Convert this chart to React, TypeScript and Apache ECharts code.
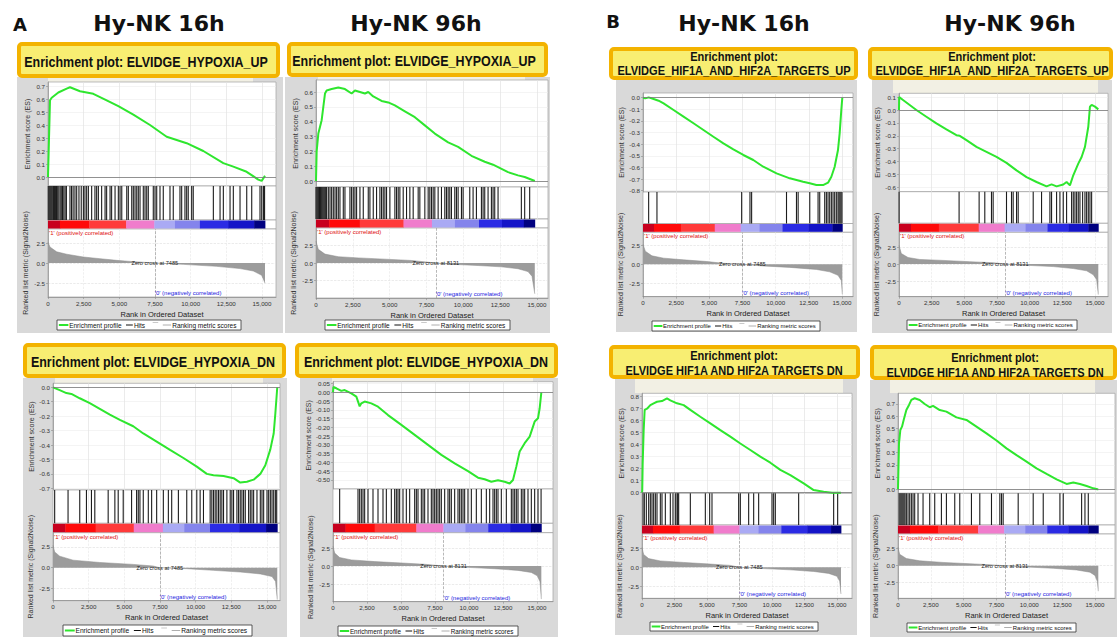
import React, { useEffect, useRef } from "react";
import * as echarts from "echarts";

// ---------------- shared data ----------------
const HEADERS = ["Hy-NK 16h", "Hy-NK 96h", "Hy-NK 16h", "Hy-NK 96h"];
const PANEL_LETTERS = ["A", "B"];
const X_TICKS = [0, 2500, 5000, 7500, 10000, 12500, 15000];
const RANK_TICKS = [-2.5, 0, 2.5];
const ZERO_CROSS_16H = 7485;
const ZERO_CROSS_96H = 8131;
const COLORBAR_COLORS = ["#c8001e", "#ff0a0a", "#ff3a3a", "#f07ccc", "#aaaaf4", "#8484ec", "#2b2be4", "#1414c8", "#000080"];
const COLORBAR_BREAKS_16H = [0, 0.055, 0.19, 0.36, 0.49, 0.585, 0.7, 0.83, 0.95, 1];
const COLORBAR_BREAKS_96H = [0, 0.06, 0.2, 0.4, 0.53, 0.635, 0.745, 0.85, 0.95, 1];

// ---------------- A1: 16h HYPOXIA_UP ----------------
const A1_TITLE = ["Enrichment plot: ELVIDGE_HYPOXIA_UP"];
const A1_N = 15210;
const A1_ES_TICKS = [0, 0.1, 0.2, 0.3, 0.4, 0.5, 0.6, 0.7];
const A1_ES = [[0, 0], [140, 0.59], [259, 0.61], [724, 0.65], [1308, 0.68], [1542, 0.69], [2243, 0.66], [3177, 0.64], [4112, 0.59], [4930, 0.545], [5981, 0.48], [7149, 0.4], [8318, 0.31], [9720, 0.26], [10886, 0.2], [12288, 0.107], [12990, 0.08], [13924, 0.04], [14742, -0.02], [14976, -0.03], [15210, 0.01]];
const A1_HITS = [20, 90, 160, 230, 300, 380, 450, 520, 600, 680, 760, 850, 930, 1020, 1110, 1200, 1290, 1540, 1650, 1760, 1890, 2010, 2170, 2330, 2480, 2590, 2710, 2830, 3060, 3290, 3410, 3530, 3760, 4000, 4110, 4350, 4460, 4700, 4930, 5050, 5170, 5520, 5630, 5870, 5980, 6100, 6220, 6330, 6450, 6680, 6800, 6920, 7030, 7380, 7500, 7620, 7850, 8080, 8550, 8780, 9250, 9370, 9600, 9720, 9830, 10070, 10180, 11590, 12060, 12290, 12760, 12990, 13460, 13930, 14280, 14860, 14980, 15100, 15180];
const A1_RANKED = [[0, 2.6], [140, 2.0], [607, 1.4], [1308, 1.1], [2477, 0.75], [3645, 0.54], [4813, 0.33], [5981, 0.17], [7485, 0], [9486, -0.17], [11822, -0.42], [13457, -0.7], [14392, -1.0], [14976, -1.54], [15210, -2.5]];

// ---------------- A2: 96h HYPOXIA_UP ----------------
const A2_TITLE = ["Enrichment plot: ELVIDGE_HYPOXIA_UP"];
const A2_N = 14850;
const A2_ES_TICKS = [0, 0.1, 0.2, 0.3, 0.4, 0.5, 0.6];
const A2_ES = [[0, 0], [45, 0.2], [158, 0.32], [384, 0.41], [497, 0.5], [610, 0.59], [723, 0.61], [1062, 0.62], [1514, 0.63], [1965, 0.62], [2417, 0.59], [2643, 0.61], [2982, 0.6], [3321, 0.59], [3547, 0.6], [3886, 0.57], [4450, 0.54], [4902, 0.53], [5354, 0.51], [6032, 0.47], [6709, 0.43], [7387, 0.375], [8065, 0.32], [8968, 0.26], [9646, 0.23], [10550, 0.17], [11453, 0.13], [12018, 0.11], [12357, 0.094], [13034, 0.06], [13712, 0.038], [14164, 0.027], [14729, 0.005], [14850, 0]];
const A2_HITS = [0, 60, 120, 180, 240, 300, 360, 420, 480, 540, 600, 660, 720, 836, 950, 1062, 1175, 1290, 1400, 1514, 1626, 1852, 1965, 2304, 2417, 2530, 2643, 2756, 2982, 3208, 3547, 3660, 3886, 4111, 4337, 4450, 4563, 4676, 4789, 5015, 5354, 5467, 5580, 5693, 5919, 6145, 6370, 6596, 6935, 7048, 7387, 7613, 7726, 7839, 7952, 8065, 8290, 8516, 8742, 8855, 8968, 9081, 9194, 9420, 9533, 9646, 9872, 9985, 10437, 10662, 10888, 11227, 11340, 11453, 11679, 11905, 12018, 12131, 12357, 13938, 14164, 14503];
const A2_RANKED = [[0, 3.1], [158, 1.95], [610, 1.27], [1514, 0.9], [2869, 0.73], [4676, 0.55], [6483, 0.36], [8131, 0], [9194, -0.18], [11001, -0.36], [12583, -0.55], [13712, -0.82], [14390, -1.23], [14661, -1.9], [14850, -4.4]];

// ---------------- B1: 16h HIF1A_AND_HIF2A_TARGETS_UP ----------------
const B1_TITLE = ["Enrichment plot:", "ELVIDGE_HIF1A_AND_HIF2A_TARGETS_UP"];
const B1_N = 15024;
const B1_ES_TICKS = [0, -0.1, -0.2, -0.3, -0.4, -0.5, -0.6, -0.7, -0.8];
const B1_ES = [[0, 0], [175, -0.006], [426, 0.003], [801, -0.011], [1177, -0.026], [1552, -0.049], [2304, -0.106], [3055, -0.163], [3806, -0.22], [4557, -0.278], [5308, -0.336], [6060, -0.393], [6811, -0.445], [7562, -0.493], [8313, -0.536], [9065, -0.594], [10066, -0.651], [11068, -0.694], [12069, -0.723], [12570, -0.737], [13071, -0.752], [13572, -0.752], [13948, -0.731], [14198, -0.68], [14448, -0.594], [14698, -0.45], [14823, -0.307], [14948, -0.106], [15024, 0]];
const B1_HITS = [426, 1052, 7437, 8063, 8188, 10817, 11568, 11694, 12570, 13196, 13321, 13697, 13822, 13947, 14072, 14198, 14323, 14448, 14573, 14698, 14773, 14848, 14923, 14998];
const B1_RANKED = [[0, 2.6], [175, 1.7], [676, 1.1], [1552, 0.8], [3055, 0.58], [4808, 0.36], [6060, 0.13], [7485, 0], [9065, -0.22], [11068, -0.4], [13071, -0.67], [14072, -0.98], [14698, -1.43], [14948, -2.1], [15024, -3.9]];

// ---------------- B2: 96h HIF1A_AND_HIF2A_TARGETS_UP ----------------
const B2_TITLE = ["Enrichment plot:", "ELVIDGE_HIF1A_AND_HIF2A_TARGETS_UP"];
const B2_N = 15253;
const B2_ES_TICKS = [0.1, 0, -0.1, -0.2, -0.3, -0.4, -0.5, -0.6];
const B2_ES = [[0, 0], [15, 0.1], [307, 0.078], [818, 0.039], [1329, 0], [2095, -0.052], [2862, -0.104], [3628, -0.15], [4395, -0.195], [4650, -0.2], [5161, -0.234], [5928, -0.286], [6694, -0.325], [7461, -0.364], [8227, -0.41], [8994, -0.468], [9760, -0.52], [10527, -0.558], [11293, -0.592], [11676, -0.577], [12060, -0.592], [12571, -0.577], [12826, -0.558], [13082, -0.584], [13337, -0.506], [13720, -0.416], [13976, -0.364], [14231, -0.286], [14487, -0.13], [14614, 0.026], [14742, 0.039], [14998, 0.026], [15253, 0.005]];
const B2_HITS = [10, 4599, 6132, 6566, 7077, 7205, 8227, 8610, 8738, 8994, 9121, 10271, 10910, 11549, 11676, 12060, 12315, 12571, 12826, 13209, 13337, 13465, 13593, 13720, 13848, 14052, 14231, 14359, 14487, 14614, 14742];
const B2_RANKED = [[0, 2.74], [179, 1.54], [690, 0.96], [1584, 0.67], [3373, 0.53], [5417, 0.34], [7205, 0.19], [8131, 0], [9760, -0.19], [11804, -0.38], [13337, -0.67], [14359, -1.0], [14870, -1.59], [15125, -2.3], [15253, -4.5]];

// ---------------- A3: 16h HYPOXIA_DN ----------------
const A3_TITLE = ["Enrichment plot: ELVIDGE_HYPOXIA_DN"];
const A3_N = 15720;
const A3_ES_TICKS = [0, -0.1, -0.2, -0.3, -0.4, -0.5, -0.6, -0.7];
const A3_ES = [[0, 0], [469, -0.02], [938, -0.04], [1289, -0.046], [1875, -0.076], [2578, -0.11], [3281, -0.15], [3984, -0.19], [4688, -0.226], [5625, -0.27], [6328, -0.32], [7266, -0.376], [8203, -0.434], [9141, -0.49], [10078, -0.55], [10781, -0.6], [11250, -0.61], [11953, -0.615], [12656, -0.63], [13125, -0.66], [13594, -0.655], [14063, -0.64], [14531, -0.6], [14883, -0.54], [15234, -0.43], [15469, -0.32], [15586, -0.18], [15720, 0]];
const A3_HITS = [117, 1055, 1875, 2344, 2695, 2930, 3867, 4336, 4570, 4922, 5508, 5859, 5977, 6094, 6328, 6680, 6914, 7266, 7734, 8086, 8320, 8789, 9375, 9727, 10078, 10313, 10547, 11016, 11133, 11250, 11367, 11484, 11602, 11719, 11836, 11953, 12188, 12422, 12539, 12656, 12891, 13008, 13125, 13242, 13359, 13477, 13711, 13828, 13945, 14063, 14297, 14531, 14648, 14766, 15000, 15117, 15234, 15352, 15469, 15586, 15680];
const A3_RANKED = [[0, 2.7], [117, 1.9], [469, 1.39], [1406, 0.91], [3281, 0.63], [5625, 0.4], [7031, 0.2], [7485, 0], [9375, -0.12], [11250, -0.32], [13125, -0.52], [14531, -0.75], [15352, -1.07], [15600, -1.67], [15720, -3.85]];

// ---------------- A4: 96h HYPOXIA_DN ----------------
const A4_TITLE = ["Enrichment plot: ELVIDGE_HYPOXIA_DN"];
const A4_N = 15319;
const A4_ES_TICKS = [0.05, 0, -0.05, -0.1, -0.15, -0.2, -0.25, -0.3, -0.35, -0.4, -0.45, -0.5];
const A4_ES = [[0, 0], [30, 0.03], [245, 0.023], [613, 0.008], [858, 0.013], [1348, -0.006], [1716, -0.025], [1961, -0.08], [2083, -0.063], [2328, -0.053], [2819, -0.063], [3309, -0.082], [4044, -0.13], [5025, -0.186], [6005, -0.243], [6985, -0.3], [7966, -0.357], [8946, -0.405], [9926, -0.45], [10662, -0.487], [11152, -0.496], [11642, -0.51], [12132, -0.502], [12623, -0.51], [12990, -0.52], [13235, -0.5], [13480, -0.424], [13725, -0.338], [14093, -0.29], [14461, -0.253], [14828, -0.167], [15074, -0.148], [15196, -0.091], [15319, 0]];
const A4_HITS = [490, 1838, 1961, 2083, 2206, 2328, 2574, 2941, 3309, 3676, 3922, 4289, 4534, 4657, 4779, 4902, 5147, 5392, 5637, 6005, 6128, 6250, 6495, 6618, 6740, 6985, 7230, 7353, 7475, 7598, 7721, 7843, 7966, 8211, 8456, 8578, 8701, 8946, 9191, 9314, 9436, 9559, 9681, 9926, 10172, 10539, 10907, 11275, 11520, 11765, 11887, 12010, 12132, 12377, 12745, 13113, 13235, 13358, 13480, 13603, 13848, 13971, 14093, 14338, 14583, 14828, 15074, 15300];
const A4_RANKED = [[0, 2.74], [123, 1.8], [490, 1.18], [1348, 0.85], [3064, 0.61], [5025, 0.42], [6740, 0.24], [8131, 0], [9926, -0.19], [11887, -0.38], [13603, -0.61], [14583, -0.9], [15025, -1.37], [15221, -2.2], [15319, -4.6]];

// ---------------- B3: 16h HIF1A AND HIF2A TARGETS DN ----------------
const B3_TITLE = ["Enrichment plot:", "ELVIDGE HIF1A AND HIF2A TARGETS DN"];
const B3_N = 15307;
const B3_ES_TICKS = [0, 0.1, 0.2, 0.3, 0.4, 0.5, 0.6, 0.7, 0.8];
const B3_ES = [[0, 0], [20, 0.02], [51, 0.24], [128, 0.52], [205, 0.69], [385, 0.7], [641, 0.73], [897, 0.745], [1154, 0.758], [1538, 0.764], [1923, 0.786], [2179, 0.77], [2692, 0.745], [3205, 0.73], [3718, 0.69], [4487, 0.633], [5256, 0.578], [6025, 0.522], [6795, 0.467], [7564, 0.41], [8333, 0.356], [9102, 0.3], [9872, 0.25], [10641, 0.19], [11410, 0.147], [12436, 0.078], [13205, 0.022], [13974, 0.008], [14615, 0], [15307, 0]];
const B3_HITS = [77, 179, 333, 513, 641, 769, 897, 1026, 1154, 1410, 1538, 1795, 2179, 2384, 2564, 2692, 2743, 2820, 3718, 4872, 5205, 5384, 7436, 7564, 8205, 8590, 8974, 9999, 10128, 10256, 12051, 14743, 15051];
const B3_RANKED = [[0, 2.58], [128, 1.67], [513, 1.13], [1410, 0.83], [3205, 0.63], [5256, 0.42], [6795, 0.25], [7485, 0], [9359, -0.17], [11410, -0.33], [13205, -0.54], [14359, -0.79], [15000, -1.17], [15205, -1.8], [15307, -3.46]];

// ---------------- B4: 96h HIF1A AND HIF2A TARGETS DN ----------------
const B4_TITLE = ["Enrichment plot:", "ELVIDGE HIF1A AND HIF2A TARGETS DN"];
const B4_N = 15252;
const B4_ES_TICKS = [0, 0.1, 0.2, 0.3, 0.4, 0.5, 0.6, 0.7];
const B4_ES = [[0, 0], [76, 0.377], [178, 0.487], [305, 0.514], [432, 0.569], [636, 0.65], [839, 0.692], [1017, 0.733], [1271, 0.747], [1652, 0.733], [2034, 0.7], [2415, 0.673], [2669, 0.684], [3178, 0.65], [3686, 0.637], [4449, 0.59], [5211, 0.569], [5974, 0.514], [6736, 0.459], [7499, 0.4], [8262, 0.336], [9024, 0.28], [9787, 0.227], [10549, 0.172], [11312, 0.126], [12075, 0.082], [12837, 0.044], [13346, 0.055], [13854, 0.044], [14362, 0.027], [14871, 0.008], [15176, 0], [15252, 0]];
const B4_HITS = [76, 153, 229, 305, 381, 458, 534, 636, 763, 890, 1017, 1144, 1271, 1525, 1907, 2415, 2796, 3305, 3686, 4321, 4703, 5592, 6228, 7118, 7753, 7880, 8007, 9151, 10295, 11058, 12329, 12583, 13981, 14235, 14489];
const B4_RANKED = [[0, 2.74], [127, 1.68], [636, 1.06], [1652, 0.72], [3432, 0.48], [5466, 0.29], [6991, 0.14], [8131, 0], [9787, -0.19], [11820, -0.38], [13600, -0.63], [14617, -0.96], [14998, -1.44], [15176, -2.3], [15252, -3.75]];

const PANELS = [
  { title: A1_TITLE, n: A1_N, esTicks: A1_ES_TICKS, dec: 1, es: A1_ES, hits: A1_HITS, ranked: A1_RANKED, zc: ZERO_CROSS_16H, breaks: COLORBAR_BREAKS_16H },
  { title: A2_TITLE, n: A2_N, esTicks: A2_ES_TICKS, dec: 1, es: A2_ES, hits: A2_HITS, ranked: A2_RANKED, zc: ZERO_CROSS_96H, breaks: COLORBAR_BREAKS_96H },
  { title: B1_TITLE, n: B1_N, esTicks: B1_ES_TICKS, dec: 1, es: B1_ES, hits: B1_HITS, ranked: B1_RANKED, zc: ZERO_CROSS_16H, breaks: COLORBAR_BREAKS_16H },
  { title: B2_TITLE, n: B2_N, esTicks: B2_ES_TICKS, dec: 1, es: B2_ES, hits: B2_HITS, ranked: B2_RANKED, zc: ZERO_CROSS_96H, breaks: COLORBAR_BREAKS_96H },
  { title: A3_TITLE, n: A3_N, esTicks: A3_ES_TICKS, dec: 1, es: A3_ES, hits: A3_HITS, ranked: A3_RANKED, zc: ZERO_CROSS_16H, breaks: COLORBAR_BREAKS_16H },
  { title: A4_TITLE, n: A4_N, esTicks: A4_ES_TICKS, dec: 2, es: A4_ES, hits: A4_HITS, ranked: A4_RANKED, zc: ZERO_CROSS_96H, breaks: COLORBAR_BREAKS_96H },
  { title: B3_TITLE, n: B3_N, esTicks: B3_ES_TICKS, dec: 1, es: B3_ES, hits: B3_HITS, ranked: B3_RANKED, zc: ZERO_CROSS_16H, breaks: COLORBAR_BREAKS_16H },
  { title: B4_TITLE, n: B4_N, esTicks: B4_ES_TICKS, dec: 1, es: B4_ES, hits: B4_HITS, ranked: B4_RANKED, zc: ZERO_CROSS_96H, breaks: COLORBAR_BREAKS_96H },
];

// ---------------- layout (pixels) ----------------
const LAYOUT = [
  { bg: [17, 77, 283, 333], strip: [48, 77, 253, 83], box: [17, 42, 280, 78], titleX: 146, titleY: [62], L: 48, R: 276, p15: 262, esTop: 82, esBot: 186, es0: 177, esScale: 130, hitBot: 220, cbBot: 229, rkBot: 297, rk0: 263, rkScale: 8, legend: [57, 320, 241, 330] },
  { bg: [285, 77, 550, 333], strip: [318, 77, 525, 85], box: [287, 42, 548, 77], titleX: 414, titleY: [61], L: 316, R: 548, p15: 537, esTop: 80, esBot: 187, es0: 181, esScale: 148.3, hitBot: 219, cbBot: 228, rkBot: 298, rk0: 263, rkScale: 7, legend: [325, 320, 510, 330] },
  { bg: [616, 80, 857, 332], strip: null, box: [609, 47, 858, 80], titleX: 734, titleY: [57, 71], L: 643, R: 853, p15: 842, esTop: 93, esBot: 192, es0: 97.7, esScale: 116.2, hitBot: 223.5, cbBot: 232.3, rkBot: 296.7, rk0: 264.3, rkScale: 7.7, legend: [652, 321, 820, 331] },
  { bg: [872, 80, 1112, 333], strip: [893, 80, 1098, 93], box: [868, 47, 1113, 80], titleX: 992, titleY: [57, 71], L: 899, R: 1108, p15: 1095, esTop: 93.3, esBot: 191.7, es0: 110, esScale: 129, hitBot: 223.3, cbBot: 232.3, rkBot: 296.7, rk0: 264, rkScale: 6.8, legend: [907, 320, 1077, 330] },
  { bg: [23, 378, 287, 637], strip: [55, 378, 263, 384], box: [23, 343, 286, 378], titleX: 153, titleY: [362], L: 53, R: 280, p15: 267, esTop: 383.3, esBot: 490, es0: 387.3, esScale: 144.3, hitBot: 523.3, cbBot: 532.7, rkBot: 600.7, rk0: 567.7, rkScale: 8.3, legend: [63, 625, 252, 636] },
  { bg: [300, 378, 558, 637], strip: [332, 378, 533, 385], box: [295, 343, 558, 378], titleX: 426, titleY: [362], L: 333, R: 553, p15: 537, esTop: 381.7, esBot: 489, es0: 392.3, esScale: 175.3, hitBot: 523.3, cbBot: 532.7, rkBot: 601.7, rk0: 566, rkScale: 7.2, legend: [338, 626, 518, 636] },
  { bg: [615, 379, 857, 635], strip: [635, 379, 843, 393], box: [609, 345, 860, 379], titleX: 734, titleY: [356, 371], L: 642, R: 852, p15: 837, esTop: 393.3, esBot: 493.3, es0: 492.7, esScale: 120, hitBot: 525, cbBot: 534, rkBot: 598.3, rk0: 567.3, rkScale: 7.7, legend: [650, 622, 818, 631] },
  { bg: [870, 380, 1117, 637], strip: [890, 380, 1095, 393], box: [870, 345, 1117, 380], titleX: 995, titleY: [358, 373], L: 898, R: 1115, p15: 1095, esTop: 393.3, esBot: 493.3, es0: 489.3, esScale: 121.9, hitBot: 525, cbBot: 534, rkBot: 598.3, rk0: 565.7, rkScale: 6.8, legend: [907, 623, 1076, 632] },
];
const HEADER_POS = [[159, 23], [416, 23], [744, 23], [1010, 23]];
const LETTER_POS = [[20, 24], [613, 21]];

const FONT = "'Liberation Sans', Arial, sans-serif";
const GREEN = "#2ee62e";

function legendEls(lg: number[]) {
  const [x0, y0, x1, y1] = lg;
  const w = x1 - x0;
  const h = y1 - y0;
  const cy = (y0 + y1) / 2;
  const fs = (6.5 * w) / 184;
  const X = (f: number) => x0 + f * w;
  const txt = (x: number, t: string) => ({
    type: "text", x, y: cy, z: 21,
    style: { text: t, fill: "#111", fontSize: fs, fontFamily: FONT, textAlign: "left", textVerticalAlign: "middle" },
  });
  return [
    { type: "rect", z: 20, shape: { x: x0, y: y0, width: w, height: h }, style: { fill: "#fff", stroke: "#333", lineWidth: 0.8 } },
    { type: "line", z: 21, shape: { x1: X(0.01), y1: cy, x2: X(0.062), y2: cy }, style: { stroke: GREEN, lineWidth: 2 } },
    txt(X(0.066), "Enrichment profile"),
    { type: "line", z: 21, shape: { x1: X(0.375), y1: cy, x2: X(0.412), y2: cy }, style: { stroke: "#111", lineWidth: 1 } },
    txt(X(0.418), "Hits"),
    { type: "line", z: 21, shape: { x1: X(0.52), y1: cy - 2.5, x2: X(0.55), y2: cy - 2.5 }, style: { stroke: "#bbb", lineWidth: 0.8 } },
    { type: "line", z: 21, shape: { x1: X(0.575), y1: cy, x2: X(0.62), y2: cy }, style: { stroke: "#999", lineWidth: 0.8 } },
    txt(X(0.626), "Ranking metric scores"),
  ];
}

function buildOption() {
  const grid: any[] = [];
  const xAxis: any[] = [];
  const yAxis: any[] = [];
  const series: any[] = [];
  const graphic: any[] = [];
  const axisFont = { fontSize: 6.2, color: "#333", fontFamily: FONT };
  const nameFont = { fontSize: 7, color: "#333", fontFamily: FONT };
  const axLine = { show: true, onZero: false, lineStyle: { color: "#8a8a8a", width: 0.7 } };

  PANELS.forEach((p, i) => {
    const g: any = LAYOUT[i];
    const w = g.R - g.L;
    const xMax = (w / (g.p15 - g.L)) * 15000;
    const esMax = (g.es0 - g.esTop) / g.esScale;
    const esMin = -(g.esBot - g.es0) / g.esScale;
    const rkMax = (g.rk0 - g.cbBot) / g.rkScale;
    const rkMin = -(g.rkBot - g.rk0) / g.rkScale;
    const base = grid.length;
    const gs = { show: true, backgroundColor: "#fff", borderColor: "#a0a0a0", borderWidth: 0.7 };
    grid.push({ ...gs, left: g.L, top: g.esTop, width: w, height: g.esBot - g.esTop });
    grid.push({ ...gs, left: g.L, top: g.esBot, width: w, height: g.hitBot - g.esBot });
    grid.push({ ...gs, left: g.L, top: g.hitBot, width: w, height: g.cbBot - g.hitBot });
    grid.push({ ...gs, left: g.L, top: g.cbBot, width: w, height: g.rkBot - g.cbBot });

    xAxis.push({
      type: "value", gridIndex: base, min: 0, max: xMax,
      axisLine: { show: false }, axisTick: { show: false, customValues: X_TICKS },
      axisLabel: { show: false, customValues: X_TICKS },
      splitLine: { show: true, lineStyle: { color: "#e2e2e2", width: 0.7 } },
    });
    yAxis.push({
      type: "value", gridIndex: base, min: esMin, max: esMax,
      axisLine: axLine,
      axisTick: { show: true, length: 2, customValues: p.esTicks, lineStyle: { color: "#8a8a8a", width: 0.6 } },
      axisLabel: { customValues: p.esTicks, margin: 3, formatter: (v: number) => Number(v).toFixed(p.dec), ...axisFont },
      splitLine: { show: true, lineStyle: { color: "#ededed", width: 0.6 } },
      name: "Enrichment score (ES)", nameLocation: "middle", nameGap: 17, nameTextStyle: nameFont,
    });
    xAxis.push({
      type: "value", gridIndex: base + 1, min: 0, max: xMax,
      axisLine: { show: false }, axisTick: { show: false, customValues: X_TICKS },
      axisLabel: { show: false, customValues: X_TICKS },
      splitLine: { show: true, lineStyle: { color: "#e2e2e2", width: 0.7 } },
    });
    yAxis.push({ type: "value", gridIndex: base + 1, min: 0, max: 1, show: false });
    xAxis.push({ type: "value", gridIndex: base + 2, min: 0, max: xMax, show: false });
    yAxis.push({ type: "value", gridIndex: base + 2, min: 0, max: 1, show: false });
    xAxis.push({
      type: "value", gridIndex: base + 3, min: 0, max: xMax,
      axisLine: axLine,
      axisTick: { show: true, length: 2, customValues: X_TICKS, lineStyle: { color: "#8a8a8a", width: 0.6 } },
      axisLabel: { customValues: X_TICKS, margin: 3, formatter: (v: number) => Number(v).toLocaleString("en-US"), ...axisFont },
      splitLine: { show: true, lineStyle: { color: "#e6e6e6", width: 0.6, type: "dashed" } },
      name: "Rank in Ordered Dataset", nameLocation: "middle", nameGap: 13,
      nameTextStyle: { fontSize: 7.5, color: "#222", fontFamily: FONT },
    });
    yAxis.push({
      type: "value", gridIndex: base + 3, min: rkMin, max: rkMax,
      axisLine: axLine,
      axisTick: { show: true, length: 2, customValues: RANK_TICKS, lineStyle: { color: "#8a8a8a", width: 0.6 } },
      axisLabel: { customValues: RANK_TICKS, margin: 3, formatter: (v: number) => Number(v).toFixed(1), ...axisFont },
      splitLine: { show: true, lineStyle: { color: "#dedede", width: 0.6, type: "dashed" } },
      name: "Ranked list metric (Signal2Noise)", nameLocation: "middle", nameGap: 19, nameTextStyle: nameFont,
    });

    series.push({
      type: "line", xAxisIndex: base, yAxisIndex: base, data: p.es, showSymbol: false, symbol: "none",
      lineStyle: { color: GREEN, width: 2 }, silent: true, z: 3,
      markLine: {
        silent: true, symbol: ["none", "none"], label: { show: false },
        lineStyle: { color: "#777", width: 0.8, type: "solid" }, data: [{ yAxis: 0 }],
      },
    });
    series.push({
      type: "custom", xAxisIndex: base + 1, yAxisIndex: base + 1, silent: true,
      data: p.hits.map((h) => [h, 0.5]),
      encode: { x: 0, y: 1 },
      renderItem: (params: any, api: any) => {
        const x = api.coord([api.value(0), 0.5])[0];
        const cs = params.coordSys;
        return { type: "rect", shape: { x: x - 0.55, y: cs.y, width: 1.1, height: cs.height }, style: { fill: "#1c1c1c" } };
      },
    });
    const segs = COLORBAR_COLORS.map((_, k) => [p.breaks[k] * p.n, p.breaks[k + 1] * p.n, k]);
    series.push({
      type: "custom", xAxisIndex: base + 2, yAxisIndex: base + 2, silent: true,
      data: segs, encode: { x: [0, 1] },
      renderItem: (params: any, api: any) => {
        const x0 = api.coord([api.value(0), 0.5])[0];
        const x1 = api.coord([api.value(1), 0.5])[0];
        const cs = params.coordSys;
        return {
          type: "rect", shape: { x: x0, y: cs.y + 0.5, width: x1 - x0 + 0.4, height: cs.height - 1 },
          style: { fill: COLORBAR_COLORS[api.value(2)] },
        };
      },
    });
    series.push({
      type: "line", xAxisIndex: base + 3, yAxisIndex: base + 3, data: p.ranked, showSymbol: false, symbol: "none",
      lineStyle: { color: "#8a8a8a", width: 0.5 }, areaStyle: { color: "#9c9c9c", opacity: 1 }, silent: true,
      markLine: {
        silent: true, symbol: ["none", "none"], label: { show: false },
        lineStyle: { color: "#999", width: 0.7, type: "dashed" }, data: [{ xAxis: p.zc }],
      },
    });
    const zcText = "Zero cross at " + p.zc;
    series.push({
      type: "custom", xAxisIndex: base + 3, yAxisIndex: base + 3, silent: true, z: 5,
      data: [[0, 0, 0], [p.zc, 0, 1], [p.zc, 0, 2]], encode: { x: 0, y: 1 },
      renderItem: (params: any, api: any) => {
        const cs = params.coordSys;
        const kind = api.value(2);
        const pt = api.coord([api.value(0), api.value(1)]);
        if (kind === 0) {
          return { type: "text", x: cs.x + 1, y: cs.y + 1, style: { text: "'1' (positively correlated)", fill: "#e01010", fontSize: 6, fontFamily: FONT, textAlign: "left", textVerticalAlign: "top" } };
        }
        if (kind === 1) {
          return { type: "text", x: pt[0], y: pt[1], style: { text: zcText, fill: "#222", fontSize: 5.6, fontFamily: FONT, textAlign: "center", textVerticalAlign: "middle" } };
        }
        return { type: "text", x: pt[0], y: cs.y + cs.height - 1, style: { text: "'0' (negatively correlated)", fill: "#2424e0", fontSize: 6, fontFamily: FONT, textAlign: "left", textVerticalAlign: "bottom" } };
      },
    });

    const [bx0, by0, bx1, by1] = g.bg;
    graphic.push({ type: "rect", z: -10, shape: { x: bx0, y: by0, width: bx1 - bx0, height: by1 - by0 }, style: { fill: "#d9d9d9" } });
    if (g.strip) {
      const [sx0, sy0, sx1, sy1] = g.strip;
      graphic.push({ type: "rect", z: -9, shape: { x: sx0, y: sy0, width: sx1 - sx0, height: sy1 - sy0 }, style: { fill: "#f2f0e4" } });
    }
    const [yx0, yy0, yx1, yy1] = g.box;
    graphic.push({
      type: "rect", z: 10, shape: { x: yx0 + 2, y: yy0 + 2, width: yx1 - yx0 - 4, height: yy1 - yy0 - 4, r: 3 },
      style: { fill: "#f8ee72", stroke: "#f3b300", lineWidth: 4 },
    });
    const twoLine = p.title.length > 1;
    p.title.forEach((t, k) => {
      graphic.push({
        type: "text", z: 11, x: g.titleX, y: g.titleY[k], scaleX: twoLine ? 0.85 : 0.89,
        style: { text: t, fill: "#111", fontSize: twoLine ? 13 : 14, fontWeight: "bold", fontFamily: FONT, textAlign: "center", textVerticalAlign: "middle" },
      });
    });
    legendEls(g.legend).forEach((el) => graphic.push(el));
  });

  HEADERS.forEach((h, k) => {
    graphic.push({
      type: "text", z: 11, x: HEADER_POS[k][0], y: HEADER_POS[k][1],
      style: { text: h, fill: "#111", fontSize: 22, fontWeight: "bold", fontFamily: "'DejaVu Sans', sans-serif", textAlign: "center", textVerticalAlign: "middle" },
    });
  });
  PANEL_LETTERS.forEach((l, k) => {
    graphic.push({
      type: "text", z: 11, x: LETTER_POS[k][0], y: LETTER_POS[k][1],
      style: { text: l, fill: "#111", fontSize: 18, fontWeight: "bold", fontFamily: "'DejaVu Sans', sans-serif", textAlign: "center", textVerticalAlign: "middle" },
    });
  });

  return {
    animation: false,
    backgroundColor: "#fff",
    textStyle: { fontFamily: FONT },
    grid, xAxis, yAxis, series,
    graphic: { elements: graphic },
  };
}

export default function App() {
  const ref = useRef<HTMLDivElement>(null);
  useEffect(() => {
    if (!ref.current) return;
    const chart = echarts.init(ref.current, null, { renderer: "svg" });
    chart.setOption(buildOption() as any);
    return () => chart.dispose();
  }, []);
  return <div ref={ref} style={{ position: "fixed", left: 0, top: 0, width: 1117, height: 637, background: "#fff" }} />;
}
